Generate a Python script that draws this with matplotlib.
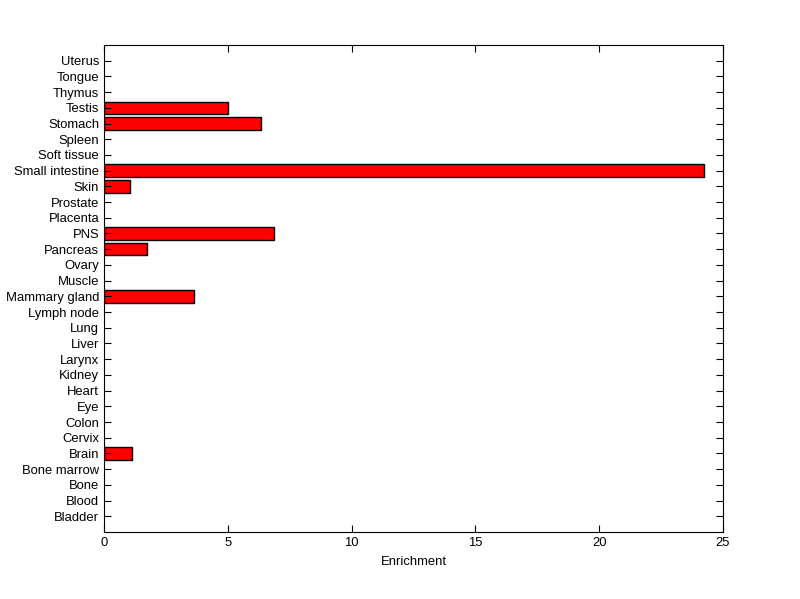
import matplotlib
matplotlib.use("Agg")
import matplotlib.pyplot as plt
import numpy as np

# tissues listed bottom to top
tissues = ["Bladder", "Blood", "Bone", "Bone marrow", "Brain", "Cervix", "Colon",
           "Eye", "Heart", "Kidney", "Larynx", "Liver", "Lung", "Lymph node",
           "Mammary gland", "Muscle", "Ovary", "Pancreas", "PNS", "Placenta",
           "Prostate", "Skin", "Small intestine", "Soft tissue", "Spleen",
           "Stomach", "Testis", "Thymus", "Tongue", "Uterus"]
enrichment = [0, 0, 0, 0, 1.12, 0, 0,
              0, 0, 0, 0, 0, 0, 0,
              3.65, 0, 0, 1.72, 6.85, 0,
              0, 1.04, 24.25, 0, 0,
              6.33, 5.0, 0, 0, 0]
xticks = [0, 5, 10, 15, 20, 25]

plt.rcParams['font.family'] = ['Liberation Sans', 'DejaVu Sans']

fig = plt.figure(figsize=(8, 5.99), dpi=100)
ax = fig.add_axes([0.13, 0.1119, 0.77375, 0.813])

pos = np.arange(1, len(tissues) + 1)
vals = np.array(enrichment)
mask = vals > 0
ax.barh(pos[mask], vals[mask], height=0.8, color="#ff0000", edgecolor="black", linewidth=1)

ax.set_xlim(0, 25)
ax.set_ylim(0, len(tissues) + 1)
ax.set_xticks(xticks)
ax.set_yticks(pos)
ax.set_yticklabels(tissues)
ax.set_xlabel("Enrichment", fontsize=9.4, labelpad=5)
ax.tick_params(direction="in", length=5, labelsize=9.4, top=True, right=True, width=0.8)
for s in ax.spines.values():
    s.set_linewidth(0.8)

fig.savefig("out.png", dpi=100)
